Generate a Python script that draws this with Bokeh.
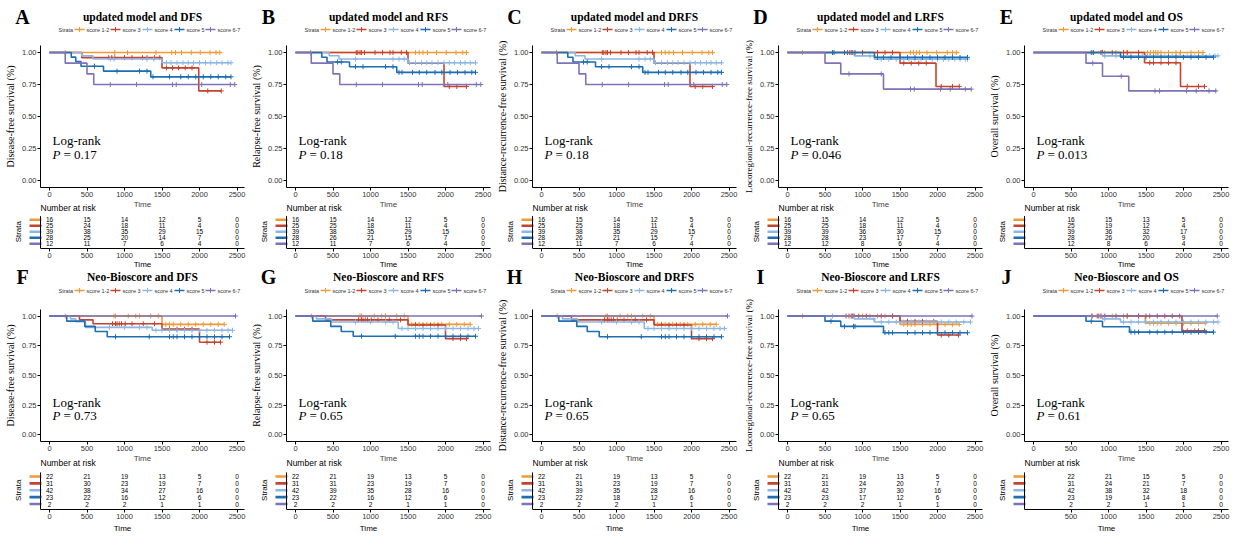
from bokeh.plotting import figure
from bokeh.layouts import row, column
from bokeh.models import FixedTicker, NumeralTickFormatter, Range1d, Title
from bokeh.core.properties import value
from bokeh.embed import file_html
from bokeh.resources import INLINE

STRATA = ["score 1-2", "score 3", "score 4", "score 5", "score 6-7"]
COLORS = ["#EE9A36", "#C5432F", "#8CB7E4", "#1E6EB2", "#7D73B6"]
LETTERS = ["A", "B", "C", "D", "E", "F", "G", "H", "I", "J"]
TITLES = ["updated model and DFS", "updated model and RFS", "updated model and DRFS",
          "updated model and LRFS", "updated model and OS",
          "Neo-Bioscore and DFS", "Neo-Bioscore and RFS", "Neo-Bioscore and DRFS",
          "Neo-Bioscore and LRFS", "Neo-Bioscore and OS"]
Y_LABELS = ["Disease-free survival (%)", "Relapse-free survival (%)",
            "Distance-recurrence-free survival (%)", "Locoregional-recurrence-free survival (%)",
            "Overall survival (%)"] * 2
P_VALUES = ["0.17", "0.18", "0.18", "0.046", "0.013", "0.73", "0.65", "0.65", "0.65", "0.61"]
Y_TICKS = [0, 0.25, 0.5, 0.75, 1.0]
X_TICKS = [0, 500, 1000, 1500, 2000, 2500]
RISK_T = [0, 500, 1000, 1500, 2000, 2500]
RISK_T_SHORT = [500, 1000, 1500, 2000, 2500]

# ---- Panel A: updated model / DFS
A_STEP_T = [[], [430, 1500, 1990], [430, 580, 1500], [290, 350, 420, 720, 1350], [210, 500, 590]]
A_STEP_S = [[], [0.96, 0.88, 0.70], [0.974, 0.949, 0.92], [0.964, 0.929, 0.893, 0.855, 0.81], [0.917, 0.833, 0.75]]
A_END = [2290, 2290, 2420, 2420, 2470]
A_CENS = [[210, 870, 1040, 1420, 1630, 1680, 1760, 1890, 2010, 2140, 2220, 2270],
          [790, 830, 870, 1000, 1100, 1240, 1300, 1400, 1470, 1560, 1640, 1720, 1810, 1900, 2110, 2290],
          [810, 860, 1300, 1390, 1560, 1620, 1700, 1780, 1850, 1920, 2000, 2080, 2150, 2230, 2300, 2380, 2420],
          [600, 900, 1200, 1300, 1380, 1600, 1750, 1850, 1950, 2050, 2150, 2250, 2350, 2420],
          [810, 1160, 1640, 1690, 2030, 2410, 2470]]
A_RISK = [[16, 15, 14, 12, 5, 0], [25, 24, 18, 11, 4, 0], [39, 38, 35, 29, 15, 0], [28, 25, 20, 14, 7, 0], [12, 11, 7, 6, 4, 0]]

# ---- Panel B: updated model / RFS
B_STEP_T = [[], [1500, 1980], [450, 580, 1500], [350, 420, 720, 1350], [210, 500, 590]]
B_STEP_S = [[], [0.917, 0.735], [0.975, 0.949, 0.92], [0.963, 0.926, 0.889, 0.845], [0.917, 0.833, 0.75]]
B_END = [2290, 2290, 2410, 2400, 2470]
B_CENS = [[200, 1600, 1650, 1700, 1760, 1880, 2010, 2140, 2230, 2280],
          [810, 830, 860, 880, 920, 1060, 1160, 1260, 1300, 1410, 1480, 2050, 2150, 2280],
          [800, 1300, 1380, 1450, 1520, 1600, 1680, 1750, 1820, 1900, 1980, 2050, 2120, 2200, 2260, 2330, 2400],
          [560, 610, 800, 900, 1200, 1300, 1380, 1420, 1560, 1650, 1750, 1860, 1950, 2060, 2160, 2260, 2350, 2400],
          [810, 1160, 1640, 1690, 2030, 2410, 2470]]
B_RISK = [[16, 15, 14, 12, 5, 0], [25, 25, 18, 11, 4, 0], [39, 38, 35, 29, 15, 0], [28, 26, 21, 15, 7, 0], [12, 11, 7, 6, 4, 0]]

# ---- Panel C: updated model / DRFS
C_STEP_T = [[], [1500, 1980], [450, 580, 1500], [350, 420, 720, 1350], [210, 500, 590]]
C_STEP_S = [[], [0.917, 0.735], [0.975, 0.949, 0.92], [0.963, 0.926, 0.889, 0.845], [0.917, 0.833, 0.75]]
C_END = [2290, 2290, 2410, 2400, 2470]
C_CENS = [[200, 1600, 1650, 1700, 1760, 1880, 2010, 2140, 2230, 2280],
          [810, 830, 860, 880, 920, 1060, 1160, 1260, 1300, 1410, 1480, 2050, 2150, 2280],
          [800, 1300, 1380, 1450, 1520, 1600, 1680, 1750, 1820, 1900, 1980, 2050, 2120, 2200, 2260, 2330, 2400],
          [560, 610, 800, 900, 1200, 1300, 1380, 1420, 1560, 1650, 1750, 1860, 1950, 2060, 2160, 2260, 2350, 2400],
          [810, 1160, 1640, 1690, 2030, 2410, 2470]]
C_RISK = [[16, 15, 14, 12, 5, 0], [25, 25, 18, 11, 4, 0], [39, 38, 35, 29, 15, 0], [28, 26, 21, 15, 7, 0], [12, 11, 7, 6, 4, 0]]

# ---- Panel D: updated model / LRFS
D_STEP_T = [[], [1500, 1980], [890, 1160], [1160], [500, 710, 1280]]
D_STEP_S = [[], [0.917, 0.735], [0.974, 0.948], [0.962], [0.917, 0.833, 0.714]]
D_END = [2290, 2290, 2400, 2400, 2450]
D_CENS = [[200, 1640, 1680, 1720, 1760, 1860, 1990, 2130, 2200, 2250],
          [800, 830, 850, 870, 1000, 1200, 1300, 1400, 1550, 1650, 1750, 1850, 2050, 2200, 2290],
          [1100, 1250, 1350, 1450, 1550, 1620, 1700, 1780, 1850, 1930, 2000, 2080, 2150, 2230, 2300, 2370, 2400],
          [600, 620, 760, 900, 1200, 1280, 1380, 1500, 1600, 1700, 1800, 1900, 2000, 2100, 2200, 2300, 2400],
          [820, 1250, 1640, 1690, 2040, 2170, 2370, 2450]]
D_RISK = [[16, 15, 14, 12, 5, 0], [25, 25, 18, 11, 4, 0], [39, 39, 36, 30, 15, 0], [28, 28, 23, 17, 7, 0], [12, 12, 8, 6, 4, 0]]

# ---- Panel E: updated model / OS
E_STEP_T = [[], [1480, 1960], [920], [1160], [700, 920, 1270]]
E_STEP_S = [[], [0.92, 0.735], [0.974], [0.964], [0.917, 0.815, 0.70]]
E_END = [2270, 2280, 2460, 2400, 2440]
E_CENS = [[780, 900, 950, 1100, 1250, 1520, 1560, 1600, 1630, 1660, 1700, 1800, 1900, 1960, 2100, 2200, 2260],
          [800, 900, 920, 1050, 1200, 1250, 1400, 1550, 1600, 1700, 1800, 1900, 2050, 2200, 2280],
          [950, 1100, 1300, 1450, 1550, 1650, 1750, 1850, 1950, 2050, 2150, 2250, 2350, 2420, 2460],
          [770, 800, 1200, 1300, 1400, 1500, 1600, 1700, 1800, 1900, 2000, 2100, 2200, 2300, 2400],
          [790, 1170, 1620, 1680, 2040, 2170, 2340, 2430]]
E_RISK = [[16, 15, 13, 5, 0], [25, 19, 12, 4, 0], [39, 36, 32, 17, 0], [28, 26, 20, 9, 0], [12, 8, 6, 4, 0]]

# ---- Panel F: Neo-Bioscore / DFS
F_STEP_T = [[1500], [400, 580, 1500, 2000], [280, 350, 480, 1370], [230, 470, 610, 770], []]
F_STEP_S = [[0.93], [0.968, 0.935, 0.89, 0.78], [0.976, 0.952, 0.905, 0.88], [0.957, 0.913, 0.87, 0.826], []]
F_END = [2330, 2290, 2440, 2400, 2480]
F_CENS = [[210, 860, 880, 1050, 1150, 1200, 1350, 1450, 1550, 1600, 1650, 1750, 1850, 1950, 2050, 2150, 2250, 2330],
          [840, 880, 900, 930, 960, 1010, 1100, 1250, 1400, 1600, 1700, 1800, 1900, 2100, 2200, 2280],
          [800, 1000, 1200, 1300, 1420, 1500, 1600, 1700, 1800, 1900, 2000, 2100, 2200, 2300, 2380, 2440],
          [880, 1330, 1600, 1650, 1700, 1800, 1900, 2000, 2100, 2200, 2300, 2400],
          [2480]]
F_RISK = [[22, 21, 19, 13, 5, 0], [31, 30, 23, 19, 7, 0], [42, 38, 34, 27, 16, 0], [23, 22, 16, 12, 6, 0], [2, 2, 2, 1, 1, 0]]

# ---- Panel G: Neo-Bioscore / RFS
G_STEP_T = [[1500], [400, 1500, 2000], [280, 480, 1370], [230, 470, 610, 770], []]
G_STEP_S = [[0.93], [0.968, 0.925, 0.81], [0.976, 0.95, 0.895], [0.957, 0.913, 0.87, 0.83], []]
G_END = [2330, 2290, 2440, 2400, 2480]
G_CENS = [[210, 860, 880, 1050, 1150, 1200, 1350, 1450, 1550, 1600, 1650, 1750, 1850, 1950, 2050, 2150, 2250, 2330],
          [840, 880, 900, 930, 960, 1010, 1100, 1250, 1400, 1600, 1700, 1800, 1900, 2100, 2200, 2280],
          [800, 1000, 1200, 1300, 1420, 1500, 1600, 1700, 1800, 1900, 2000, 2100, 2200, 2300, 2380, 2440],
          [880, 1330, 1600, 1650, 1700, 1800, 1900, 2000, 2100, 2200, 2300, 2400],
          [2480]]
G_RISK = [[22, 21, 19, 13, 5, 0], [31, 31, 23, 19, 7, 0], [42, 39, 35, 28, 16, 0], [23, 22, 16, 12, 6, 0], [2, 2, 2, 1, 1, 0]]

# ---- Panel H: Neo-Bioscore / DRFS
H_STEP_T = [[1500], [400, 1500, 2000], [280, 480, 1370], [230, 470, 610, 770], []]
H_STEP_S = [[0.93], [0.968, 0.925, 0.81], [0.976, 0.95, 0.895], [0.957, 0.913, 0.87, 0.826], []]
H_END = [2330, 2290, 2440, 2400, 2480]
H_CENS = [[210, 860, 880, 1050, 1150, 1200, 1350, 1450, 1550, 1600, 1650, 1750, 1850, 1950, 2050, 2150, 2250, 2330],
          [840, 880, 900, 930, 960, 1010, 1100, 1250, 1400, 1600, 1700, 1800, 1900, 2100, 2200, 2280],
          [800, 1000, 1200, 1300, 1420, 1500, 1600, 1700, 1800, 1900, 2000, 2100, 2200, 2300, 2380, 2440],
          [880, 1330, 1600, 1650, 1700, 1800, 1900, 2000, 2100, 2200, 2300, 2400],
          [2480]]
H_RISK = [[22, 21, 19, 13, 5, 0], [31, 31, 23, 19, 7, 0], [42, 39, 35, 28, 16, 0], [23, 22, 18, 12, 6, 0], [2, 2, 2, 1, 1, 0]]

# ---- Panel I: Neo-Bioscore / LRFS
I_STEP_T = [[1500], [1500, 2000], [890, 1160], [500, 710, 1280], []]
I_STEP_S = [[0.93], [0.955, 0.84], [0.976, 0.95], [0.957, 0.913, 0.86], []]
I_END = [2290, 2290, 2440, 2400, 2460]
I_CENS = [[200, 870, 1000, 1100, 1200, 1300, 1400, 1550, 1600, 1650, 1700, 1800, 1900, 2000, 2100, 2200, 2290],
          [780, 820, 850, 870, 890, 950, 1050, 1250, 1400, 1600, 1700, 1800, 1950, 2050, 2150, 2280],
          [600, 1150, 1250, 1350, 1450, 1550, 1650, 1750, 1850, 1950, 2050, 2150, 2250, 2350, 2440],
          [580, 760, 880, 900, 1300, 1350, 1400, 1600, 1700, 1800, 1900, 2000, 2100, 2200, 2300, 2400],
          [2460]]
I_RISK = [[22, 21, 19, 13, 5, 0], [31, 31, 24, 20, 7, 0], [42, 42, 37, 30, 16, 0], [23, 23, 17, 12, 6, 0], [2, 2, 2, 1, 1, 0]]

# ---- Panel J: Neo-Bioscore / OS
J_STEP_T = [[1490], [1980], [920, 1160], [700, 920, 1280], []]
J_STEP_S = [[0.94], [0.875], [0.976, 0.95], [0.956, 0.91, 0.865], []]
J_END = [2290, 2290, 2460, 2400, 2450]
J_CENS = [[780, 900, 1050, 1200, 1250, 1400, 1550, 1600, 1650, 1700, 1800, 1900, 2000, 2100, 2200, 2290],
          [780, 850, 870, 900, 950, 1100, 1250, 1400, 1500, 1550, 1650, 1750, 1850, 1950, 2050, 2150, 2200, 2280],
          [950, 1200, 1300, 1400, 1500, 1600, 1700, 1800, 1900, 2000, 2100, 2200, 2300, 2400, 2460],
          [770, 1300, 1350, 1400, 1550, 1650, 1750, 1850, 2000, 2100, 2200, 2300, 2400],
          [2450]]
J_RISK = [[22, 21, 15, 5, 0], [31, 24, 21, 7, 0], [42, 38, 32, 18, 0], [23, 19, 14, 8, 0], [2, 2, 1, 1, 0]]

PANELS = [
    (A_STEP_T, A_STEP_S, A_END, A_CENS, A_RISK, RISK_T),
    (B_STEP_T, B_STEP_S, B_END, B_CENS, B_RISK, RISK_T),
    (C_STEP_T, C_STEP_S, C_END, C_CENS, C_RISK, RISK_T),
    (D_STEP_T, D_STEP_S, D_END, D_CENS, D_RISK, RISK_T),
    (E_STEP_T, E_STEP_S, E_END, E_CENS, E_RISK, RISK_T_SHORT),
    (F_STEP_T, F_STEP_S, F_END, F_CENS, F_RISK, RISK_T),
    (G_STEP_T, G_STEP_S, G_END, G_CENS, G_RISK, RISK_T),
    (H_STEP_T, H_STEP_S, H_END, H_CENS, H_RISK, RISK_T),
    (I_STEP_T, I_STEP_S, I_END, I_CENS, I_RISK, RISK_T),
    (J_STEP_T, J_STEP_S, J_END, J_CENS, J_RISK, RISK_T_SHORT),
]

# ---------------- layout constants ----------------
W = 246
HEAD_H = [32, 36]
TITLE_FROM_TOP = [16, 16]
LEGEND_FROM_TOP = [29, 30]
KM_TOP = 13
KM_FRAME = [134, 124]
TAB_FRAME = 40
TAB_H = [60, 78]
X0, X1 = -120, 2600
KM_LEFT, KM_RIGHT = 40, 2
FRAME_W = W - KM_LEFT - KM_RIGHT
UX = (X1 - X0) / FRAME_W
TX0 = X1 - (W - KM_RIGHT) * UX
SERIF = "Liberation Serif"
SANS = "Liberation Sans"

LEG_STRATA_PX = 18
LEG_KEYS_PX = [(34, 44), (70, 80), (102, 112), (134, 144), (165, 175)]
LEG_TXT_PX = [46, 82, 114, 146, 177]


def surv_at(t, st, ss):
    lvl = 1.0
    for a, b in zip(st, ss):
        if t >= a:
            lvl = b
    return lvl


def blank(p):
    p.outline_line_color = None
    p.background_fill_color = None
    p.border_fill_color = None
    for g in p.grid:
        g.visible = False


def style_axis(ax):
    ax.axis_line_color = "black"
    ax.axis_line_width = 1
    ax.major_tick_line_color = "black"
    ax.major_tick_out = 3
    ax.major_tick_in = 0
    ax.minor_tick_line_color = None
    ax.major_label_text_font = SANS
    ax.major_label_text_font_size = "7.5px"
    ax.major_label_text_color = "#333333"
    ax.major_label_standoff = 1
    ax.axis_label_text_font = SANS
    ax.axis_label_text_font_size = "8px"
    ax.axis_label_text_font_style = "normal"
    ax.axis_label_standoff = 0


def header_fig(k):
    r = 0 if k < 5 else 1
    hh = HEAD_H[r]
    h = figure(width=W, height=hh, x_range=Range1d(0, W), y_range=Range1d(0, hh),
               output_backend="svg", toolbar_location=None, title=None,
               x_axis_location=None, y_axis_location=None, frame_align=False,
               min_border_left=0, min_border_right=0, min_border_top=0, min_border_bottom=0)
    blank(h)
    ty = hh - TITLE_FROM_TOP[r]
    ly = hh - LEGEND_FROM_TOP[r]
    if r == 1:
        # x-axis title of the risk table directly above this panel
        h.text(x=[KM_LEFT + FRAME_W / 2], y=[hh - 4], text=["Time"], text_font=value(SANS),
               text_font_size="8px", text_align="center", text_baseline="middle",
               text_color="black")
    h.text(x=[22], y=[ty], text=[LETTERS[k]], text_font=value(SERIF), text_font_size="20px",
           text_font_style="bold", text_align="center", text_baseline="middle", text_color="black")
    h.text(x=[KM_LEFT + FRAME_W / 2], y=[ty], text=[TITLES[k]], text_font=value(SERIF),
           text_font_size="11.5px", text_font_style="bold", text_align="center",
           text_baseline="middle", text_color="black")
    h.text(x=[KM_LEFT + LEG_STRATA_PX], y=[ly], text=["Strata"], text_font=value(SANS),
           text_font_size="5.5px", text_color="#333333", text_baseline="middle", text_align="left")
    h.segment(x0=[KM_LEFT + a for a, b in LEG_KEYS_PX], y0=[ly] * 5,
              x1=[KM_LEFT + b for a, b in LEG_KEYS_PX], y1=[ly] * 5,
              line_color=COLORS, line_width=1.6)
    h.scatter(x=[KM_LEFT + (a + b) / 2 for a, b in LEG_KEYS_PX], y=[ly] * 5, marker="cross",
              size=5, line_color=COLORS, line_width=1)
    h.text(x=[KM_LEFT + v for v in LEG_TXT_PX], y=[ly] * 5, text=STRATA, text_font=value(SANS),
           text_font_size="5.5px", text_color="#333333", text_baseline="middle", text_align="left")
    return h


def km_fig(k):
    r = 0 if k < 5 else 1
    st, ss, ends, cens, risk, rt = PANELS[k]
    p = figure(width=W, height=KM_TOP + KM_FRAME[r] + 32,
               x_range=Range1d(X0, X1), y_range=Range1d(-0.055, 1.055),
               output_backend="svg", toolbar_location=None, title=None, frame_align=False,
               min_border_left=KM_LEFT, min_border_right=KM_RIGHT,
               min_border_top=KM_TOP, min_border_bottom=0)
    blank(p)
    style_axis(p.xaxis[0])
    style_axis(p.yaxis[0])
    p.xaxis.ticker = FixedTicker(ticks=X_TICKS)
    p.xaxis.axis_label = "Time"
    p.yaxis.ticker = FixedTicker(ticks=Y_TICKS)
    p.yaxis.formatter = NumeralTickFormatter(format="0.00")
    p.yaxis.axis_label = Y_LABELS[k]
    p.yaxis.axis_label_text_font = SERIF
    p.yaxis.axis_label_text_font_size = "9px" if len(Y_LABELS[k]) > 38 else "10px"
    p.yaxis.axis_label_text_color = "black"
    p.yaxis.axis_label_standoff = 3

    for i in range(5):
        xs = [0] + list(st[i]) + [ends[i]]
        last = ss[i][-1] if ss[i] else 1.0
        ys = [1.0] + list(ss[i]) + [last]
        p.step(xs, ys, mode="after", line_color=COLORS[i], line_width=1.6)
        cy = [surv_at(t, st[i], ss[i]) for t in cens[i]]
        p.scatter(cens[i], cy, marker="cross", size=5, line_color=COLORS[i], line_width=1)

    ly1, ly2 = (0.31, 0.205) if k < 5 else (0.27, 0.165)
    p.text(x=[40], y=[ly1], text=["Log-rank"], text_font=value(SERIF), text_font_size="13px",
           text_baseline="middle", text_align="left", text_color="black")
    p.text(x=[40], y=[ly2], text=["P"], text_font=value(SERIF), text_font_size="13px",
           text_font_style="italic", text_baseline="middle", text_align="left", text_color="black")
    p.text(x=[40 + 11 * UX], y=[ly2], text=["= " + P_VALUES[k]], text_font=value(SERIF),
           text_font_size="13px", text_baseline="middle", text_align="left", text_color="black")
    return p


def risk_fig(k):
    r = 0 if k < 5 else 1
    st, ss, ends, cens, risk, rt = PANELS[k]
    t = figure(width=W, height=TAB_H[r],
               x_range=Range1d(TX0, X1), y_range=Range1d(0, TAB_FRAME),
               output_backend="svg", toolbar_location=None, title=None,
               y_axis_location=None, frame_align=False,
               min_border_left=0, min_border_right=KM_RIGHT,
               min_border_top=0, min_border_bottom=0)
    blank(t)
    style_axis(t.xaxis[0])
    t.margin = (-11, 0, 0, 0)
    t.xaxis.ticker = FixedTicker(ticks=rt)
    t.xaxis.bounds = (X0, X1)
    if r == 1:
        t.add_layout(Title(text="Time", align="center", offset=20, standoff=0,
                           text_font=SANS, text_font_size="8px", text_font_style="normal",
                           text_color="black"), "below")

    rows_y = [24, 19, 14, 9, 4]
    t.text(x=[X0], y=[TAB_FRAME - 6], text=["Number at risk"], text_font=value(SANS),
           text_font_size="8.5px", text_align="left", text_baseline="middle", text_color="black")
    t.text(x=[X0 - 22 * UX], y=[14], text=["Strata"], text_font=value(SANS), text_font_size="8px",
           angle=90, angle_units="deg", text_align="center", text_baseline="middle",
           text_color="black")
    t.segment(x0=[X0 - 11 * UX] * 5, y0=rows_y, x1=[X0 + 1 * UX] * 5, y1=rows_y,
              line_color=COLORS, line_width=2.6)
    t.segment(x0=[X0], y0=[0], x1=[X0], y1=[27], line_color="black", line_width=1)
    for i in range(5):
        t.text(x=rt, y=[rows_y[i]] * len(rt), text=[str(v) for v in risk[i]],
               text_font=value(SANS), text_font_size="6.5px", text_align="center",
               text_baseline="middle", text_color="black")
    return t


cols = [column(header_fig(k), km_fig(k), risk_fig(k)) for k in range(10)]
row1 = row(*cols[:5])
row2 = row(*cols[5:])
layout = column(row1, row2)

open("out.html", "w").write(file_html(layout, INLINE))
